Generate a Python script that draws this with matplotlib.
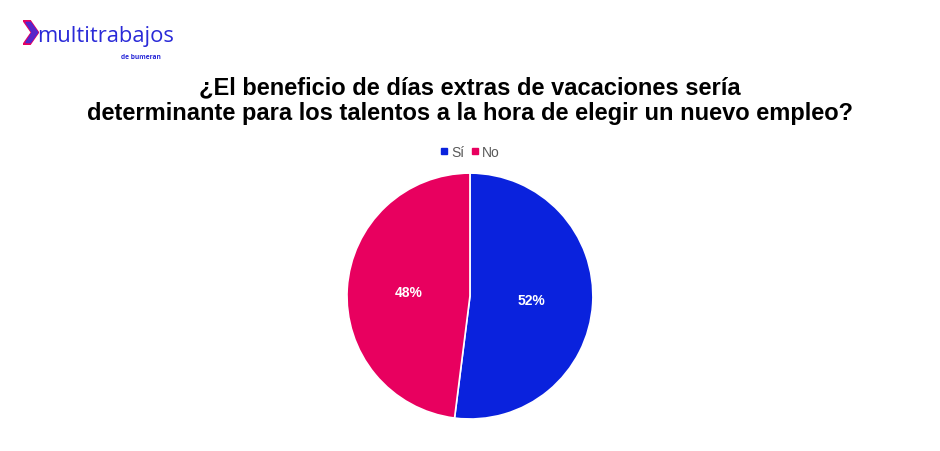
import matplotlib
matplotlib.use("Agg")
import matplotlib.pyplot as plt
from matplotlib.patches import Polygon
from matplotlib.lines import Line2D

categories = ["Sí", "No"]
values = [52, 48]
colors = ["#0a22dd", "#e8005f"]
title = "¿El beneficio de días extras de vacaciones sería\ndeterminante para los talentos a la hora de elegir un nuevo empleo?"

fig = plt.figure(figsize=(9.4, 4.52), dpi=100)
fig.patch.set_facecolor("white")

# logo
fig.text(0.040, 0.920, "multitrabajos", fontsize=15.8, color="#2a2ad8",
         family="Open Sans", va="center", ha="left")
fig.text(0.171, 0.873, "de bumeran", fontsize=4.8, color="#2a2ad8",
         family="Open Sans", va="center", ha="right", fontweight="bold")
logo_ax = fig.add_axes([0.024, 0.898, 0.017, 0.056])
logo_ax.axis("off")
logo_ax.set_xlim(0, 1)
logo_ax.set_ylim(0, 1)
logo_ax.add_patch(Polygon([[0.0, 1.0], [0.45, 1.0], [1.0, 0.5], [0.45, 0.0], [0.0, 0.0], [0.55, 0.5]],
                          closed=True, color="#e8005f"))
logo_ax.add_patch(Polygon([[0.2, 0.9], [0.5, 0.9], [0.95, 0.5], [0.5, 0.1], [0.2, 0.1], [0.6, 0.5]],
                          closed=True, color="#3a2de0", alpha=0.8))

fig.text(0.5, 0.777, title, ha="center", va="center", fontsize=17,
         fontweight="bold", family="Liberation Sans", color="black", linespacing=1.15)

ax = fig.add_axes([0.5 - 0.1309, 0.0708, 0.2617, 0.544])
wedges, texts, autotexts = ax.pie(values, colors=colors, startangle=90, counterclock=False,
                                  autopct="%d%%", pctdistance=0.5,
                                  wedgeprops=dict(edgecolor="white", linewidth=1.2),
                                  textprops=dict(color="white", fontsize=10, fontweight="bold",
                                                 family="Liberation Sans"))
ax.set_xlim(-1, 1)
ax.set_ylim(-1, 1)
ax.set_aspect("equal")

handles = [Line2D([], [], marker="s", linestyle="none", markersize=5, color=c) for c in colors]
fig.legend(handles, categories, loc="center", bbox_to_anchor=(0.5, 0.661), ncol=2,
           frameon=False, handlelength=0.6, handletextpad=0.2,
           columnspacing=0.5, prop=dict(family="Liberation Sans", size=10),
           labelcolor="#595959")

fig.savefig("out.png", dpi=100, facecolor="white")
